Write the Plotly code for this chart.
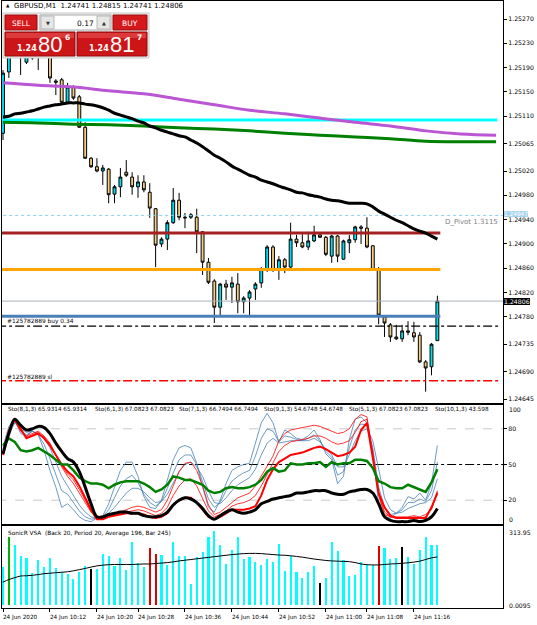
import plotly.graph_objects as go

# ------------------------------------------------------------------ data
tick_bars = [0, 8, 16, 23, 31, 39, 47, 55, 62, 70]
tick_labels = ["24 Jun 2020", "24 Jun 10:12", "24 Jun 10:20", "24 Jun 10:28", "24 Jun 10:36",
               "24 Jun 10:44", "24 Jun 10:52", "24 Jun 11:00", "24 Jun 11:08", "24 Jun 11:16"]

opens = [1.25082, 1.25183, 1.25216, 1.25219, 1.25199, 1.25209, 1.25216, 1.25219, 1.25216, 1.25168,
         1.25170, 1.25133, 1.25158, 1.25142, 1.25092, 1.25041, 1.25027, 1.25020, 1.25023, 1.24982,
         1.24994, 1.25018, 1.25010, 1.24994, 1.25002, 1.24985, 1.24958, 1.24900, 1.24908, 1.24935,
         1.24972, 1.24944, 1.24944, 1.24944, 1.24920, 1.24870, 1.24839, 1.24796, 1.24834, 1.24829,
         1.24834, 1.24805, 1.24811, 1.24826, 1.24836, 1.24859, 1.24895, 1.24859, 1.24874, 1.24862,
         1.24908, 1.24902, 1.24895, 1.24905, 1.24915, 1.24911, 1.24880, 1.24913, 1.24875, 1.24902,
         1.24907, 1.24928, 1.24926, 1.24897, 1.24859, 1.24780, 1.24767, 1.24747, 1.24744, 1.24757,
         1.24754, 1.24750, 1.24706, 1.24698, 1.24741]
highs = [1.25186, 1.25227, 1.25232, 1.25227, 1.25219, 1.25216, 1.25222, 1.25227, 1.25222, 1.25171,
         1.25173, 1.25165, 1.25161, 1.25145, 1.25100, 1.25043, 1.25041, 1.25030, 1.25025, 1.24997,
         1.25025, 1.25038, 1.25018, 1.25013, 1.25013, 1.25000, 1.24959, 1.24911, 1.24939, 1.24992,
         1.24984, 1.24951, 1.24951, 1.24958, 1.24921, 1.24877, 1.24842, 1.24836, 1.24841, 1.24846,
         1.24852, 1.24814, 1.24824, 1.24837, 1.24862, 1.24898, 1.24898, 1.24880, 1.24877, 1.24935,
         1.24915, 1.24916, 1.24920, 1.24930, 1.24916, 1.24913, 1.24915, 1.24915, 1.24907, 1.24915,
         1.24930, 1.24931, 1.24944, 1.24898, 1.24862, 1.24783, 1.24770, 1.24767, 1.24767, 1.24773,
         1.24772, 1.24755, 1.24709, 1.24737, 1.24815]
lows = [1.25071, 1.25173, 1.25211, 1.25178, 1.25196, 1.25203, 1.25186, 1.25209, 1.25165, 1.25145,
        1.25132, 1.25130, 1.25137, 1.25091, 1.25040, 1.25025, 1.25018, 1.24997, 1.24967, 1.24967,
        1.24977, 1.25010, 1.24981, 1.24976, 1.24985, 1.24943, 1.24862, 1.24895, 1.24890, 1.24933,
        1.24939, 1.24926, 1.24941, 1.24885, 1.24849, 1.24834, 1.24770, 1.24783, 1.24808, 1.24803,
        1.24786, 1.24786, 1.24783, 1.24808, 1.24828, 1.24854, 1.24854, 1.24841, 1.24852, 1.24860,
        1.24895, 1.24893, 1.24890, 1.24903, 1.24910, 1.24880, 1.24869, 1.24870, 1.24874, 1.24885,
        1.24902, 1.24900, 1.24893, 1.24857, 1.24768, 1.24747, 1.24739, 1.24742, 1.24739, 1.24750,
        1.24739, 1.24704, 1.24657, 1.24684, 1.24741]
closes = [1.25181, 1.25216, 1.25224, 1.25212, 1.25211, 1.25206, 1.25211, 1.25216, 1.25173, 1.25166,
          1.25133, 1.25158, 1.25140, 1.25092, 1.25041, 1.25027, 1.25020, 1.25025, 1.24981, 1.24994,
          1.25010, 1.25013, 1.24994, 1.25002, 1.24989, 1.24959, 1.24898, 1.24908, 1.24935, 1.24972,
          1.24944, 1.24943, 1.24948, 1.24920, 1.24870, 1.24837, 1.24796, 1.24834, 1.24829, 1.24836,
          1.24805, 1.24811, 1.24821, 1.24834, 1.24859, 1.24895, 1.24857, 1.24874, 1.24862, 1.24908,
          1.24902, 1.24895, 1.24905, 1.24915, 1.24911, 1.24883, 1.24913, 1.24880, 1.24905, 1.24907,
          1.24928, 1.24926, 1.24895, 1.24857, 1.24783, 1.24770, 1.24747, 1.24744, 1.24757, 1.24755,
          1.24747, 1.24706, 1.24696, 1.24735, 1.24806]

ma_black = [1.25109, 1.25110, 1.25114, 1.25115, 1.25117, 1.25119, 1.25122, 1.25125, 1.25127, 1.25129,
            1.25130, 1.25132, 1.25132, 1.25132, 1.25130, 1.25129, 1.25127, 1.25124, 1.25120, 1.25115,
            1.25112, 1.25109, 1.25106, 1.25102, 1.25099, 1.25094, 1.25091, 1.25087, 1.25084, 1.25081,
            1.25078, 1.25076, 1.25071, 1.25066, 1.25060, 1.25053, 1.25046, 1.25041, 1.25035, 1.25028,
            1.25023, 1.25018, 1.25013, 1.25010, 1.25005, 1.25002, 1.24999, 1.24995, 1.24992, 1.24989,
            1.24985, 1.24984, 1.24981, 1.24979, 1.24977, 1.24974, 1.24972, 1.24971, 1.24969, 1.24967,
            1.24967, 1.24967, 1.24966, 1.24961, 1.24954, 1.24949, 1.24944, 1.24939, 1.24935, 1.24930,
            1.24925, 1.24921, 1.24918, 1.24913, 1.24908]

slow_ma_bars = [0, 6, 12, 18, 24, 30, 36, 42, 48, 54, 60, 66, 72, 78, 84]
ma_magenta = [1.25165, 1.25161, 1.25158, 1.25152, 1.25147, 1.25138, 1.25129, 1.25120, 1.25114,
              1.25107, 1.25100, 1.25094, 1.25086, 1.25081, 1.25079]
ma_green = [1.25100, 1.25099, 1.25097, 1.25096, 1.25094, 1.25091, 1.25089, 1.25086, 1.25082,
            1.25079, 1.25076, 1.25073, 1.25069, 1.25068, 1.25068]

level_cyan = 1.25104
level_darkred = 1.24918
level_orange = 1.24858
level_steel = 1.24781
level_pivot = 1.24947
level_bid = 1.24806
level_order = 1.24765
level_sl = 1.24675

price_ticks = [1.25270, 1.25230, 1.25190, 1.25150, 1.25110, 1.25065, 1.25020, 1.24980,
               1.24940, 1.24900, 1.24860, 1.24820, 1.24780, 1.24735, 1.24690, 1.24645]

sto_black = [59, 76, 88, 83, 79, 80, 82, 81, 76, 68,
             61, 55, 52, 44, 31, 17, 6, 6, 8, 9,
             10, 10, 9, 9, 7, 6, 6, 7, 10, 16,
             20, 22, 21, 18, 13, 7, 4, 7, 10, 12,
             10, 9, 10, 12, 17, 19, 21, 22, 23, 24,
             26, 26, 27, 28, 28, 28, 26, 25, 25, 27,
             28, 29, 29, 26, 17, 6, 3, 2, 2, 2,
             3, 2, 3, 6, 13]
sto_green = [66, 72, 69, 62, 61, 62, 64, 61, 58, 54,
             50, 50, 45, 39, 36, 34, 34, 33, 30, 33,
             35, 36, 36, 36, 34, 31, 27, 29, 33, 40,
             39, 37, 37, 35, 33, 28, 26, 27, 30, 31,
             30, 30, 31, 33, 37, 44, 47, 44, 45, 51,
             50, 50, 51, 51, 52, 48, 52, 50, 51, 51,
             54, 54, 53, 47, 36, 34, 31, 30, 30, 33,
             31, 29, 27, 35, 46]
sto_blue_fast = [65, 82, 88, 76, 74, 78, 75, 62, 45, 31,
                 14, 17, 12, 6, 3, 2, 5, 7, 17, 31,
                 45, 52, 52, 40, 23, 14, 13, 20, 37, 54,
                 64, 66, 64, 51, 31, 14, 10, 20, 34, 45,
                 48, 50, 51, 68, 85, 93, 85, 69, 79, 76,
                 72, 71, 74, 79, 71, 59, 54, 34, 40, 71,
                 88, 90, 85, 59, 17, 6, 5, 9, 14, 23,
                 21, 26, 20, 34, 66]
sto_blue_mid = [63, 78, 86, 78, 75, 78, 75, 67, 55, 42,
                28, 25, 18, 11, 6, 4, 5, 6, 12, 22,
                32, 38, 41, 35, 25, 18, 15, 19, 30, 43,
                54, 58, 58, 50, 35, 21, 14, 18, 28, 36,
                40, 43, 45, 57, 72, 80, 78, 69, 74, 73,
                71, 70, 72, 75, 70, 61, 56, 41, 44, 64,
                79, 84, 83, 64, 31, 14, 8, 9, 12, 18,
                18, 21, 19, 28, 52]
sto_blue_slow = [62, 75, 85, 80, 77, 78, 76, 72, 64, 52,
                 40, 32, 24, 16, 10, 6, 5, 6, 9, 14,
                 20, 26, 30, 30, 27, 22, 18, 19, 25, 34,
                 44, 50, 52, 48, 40, 28, 18, 17, 22, 28,
                 33, 36, 39, 46, 58, 68, 72, 68, 69, 70,
                 70, 70, 70, 72, 69, 63, 58, 48, 48, 58,
                 70, 78, 80, 70, 45, 22, 12, 9, 10, 13,
                 15, 17, 18, 22, 38]
sto_red_hi = [60, 80, 87, 78, 74, 76, 78, 74, 68, 58,
              48, 40, 34, 26, 18, 10, 5, 5, 7, 8,
              10, 12, 14, 15, 14, 12, 10, 12, 20, 32,
              44, 51, 52, 45, 32, 16, 8, 10, 14, 18,
              22, 24, 26, 32, 40, 48, 57, 70, 76, 79,
              80, 81, 82, 83, 82, 80, 78, 76, 77, 80,
              88, 92, 90, 60, 24, 8, 6, 6, 6, 6,
              7, 6, 8, 12, 28]
sto_red_mid = [59, 79, 87, 79, 73, 75, 77, 73, 67, 58,
               49, 42, 37, 29, 20, 11, 4, 4, 6, 7,
               9, 10, 11, 12, 11, 9, 7, 9, 14, 24,
               32, 37, 38, 32, 22, 11, 6, 8, 11, 15,
               17, 18, 20, 24, 32, 42, 51, 61, 66, 69,
               70, 71, 72, 74, 74, 72, 69, 67, 68, 70,
               77, 86, 88, 58, 25, 10, 6, 5, 5, 5,
               6, 5, 6, 13, 27]
sto_red_lo = [58, 78, 88, 80, 72, 74, 76, 72, 66, 58,
              50, 44, 40, 32, 22, 12, 4, 4, 6, 7,
              8, 9, 9, 9, 8, 6, 5, 6, 9, 16,
              20, 22, 22, 18, 12, 6, 4, 6, 9, 12,
              12, 12, 13, 15, 24, 37, 46, 52, 55, 58,
              59, 60, 62, 64, 65, 63, 60, 57, 58, 60,
              65, 79, 85, 56, 26, 14, 7, 5, 5, 5,
              5, 5, 5, 14, 26]
sto_levels_dotted = [80, 20]
sto_level_mid = 50

volumes = [162, 290, 254, 208, 198, 134, 191, 162, 198, 158,
           141, 131, 110, 138, 167, 153, 151, 215, 208, 165,
           198, 148, 268, 177, 162, 240, 215, 212, 170, 268,
           208, 208, 88, 205, 226, 290, 314, 254, 172, 233,
           290, 195, 205, 184, 170, 195, 181, 257, 144, 208,
           141, 113, 141, 167, 92, 116, 266, 230, 191, 123,
           127, 181, 170, 170, 250, 240, 195, 198, 246, 205,
           172, 233, 290, 254, 254]
vol_avg = [97, 108, 116, 123, 124, 126, 129, 133, 135, 137,
           139, 141, 145, 150, 155, 161, 166, 169, 171, 172,
           172, 172, 172, 173, 174, 174, 176, 178, 180, 183,
           187, 190, 193, 196, 199, 202, 205, 208, 211, 214,
           216, 218, 219, 219, 218, 216, 214, 212, 211, 209,
           206, 203, 199, 195, 192, 189, 187, 186, 185, 184,
           180, 174, 171, 170, 170, 172, 174, 175, 177, 179,
           182, 186, 193, 200, 204]
vol_green_bars = [1]
vol_red_bars = [25, 26, 64]
vol_black_bars = [15, 54, 68]

# ------------------------------------------------------------------ geometry helpers
W, H = 537, 625
ML, MR, MT, MB = 2, 34, 1, 17
PW, PH = W - ML - MR, H - MT - MB
FONT = "DejaVu Sans"
BIG = "Liberation Sans"


def PX(x):
    return (x - ML) / PW


def PY(y):
    return (H - MB - y) / PH


bars = list(range(len(opens)))
XR = [-0.17, 85.18]
LEFT, RIGHT = -1, 90

fig = go.Figure()

# ------------------------------------------------------------------ main panel
def hline(level, x_end, color, width, dash="solid"):
    fig.add_trace(go.Scatter(x=[LEFT, x_end], y=[level, level], mode="lines",
                             line=dict(color=color, width=width, dash=dash),
                             hoverinfo="skip", xaxis="x", yaxis="y"))


hline(level_pivot, RIGHT, "#87ceeb", 1, "dot")
hline(level_bid, RIGHT, "#a9b0ba", 1)
hline(level_cyan, 84.2, "#00ffff", 3)
fig.add_trace(go.Scatter(x=slow_ma_bars, y=ma_magenta, mode="lines",
                         line=dict(color="#ba55d3", width=3, shape="spline"), hoverinfo="skip"))
fig.add_trace(go.Scatter(x=slow_ma_bars, y=ma_green, mode="lines",
                         line=dict(color="#008000", width=3, shape="spline"), hoverinfo="skip"))
hline(level_darkred, 74.5, "#a52020", 3)
hline(level_orange, 74.5, "#ffa500", 3)
hline(level_steel, 74.5, "#4a80b8", 3)
hline(level_order, 84.5, "#000000", 1.3, "dashdot")
hline(level_sl, 84.5, "#ff0000", 1.3, "dashdot")
fig.add_trace(go.Scatter(x=bars, y=ma_black, mode="lines",
                         line=dict(color="black", width=3, shape="spline"), hoverinfo="skip"))

fig.add_trace(go.Candlestick(
    x=bars, open=opens, high=highs, low=lows, close=closes,
    increasing=dict(fillcolor="#00e0ec", line=dict(color="black", width=1)),
    decreasing=dict(fillcolor="#f3cc86", line=dict(color="black", width=1)),
    whiskerwidth=0, hoverinfo="skip", xaxis="x", yaxis="y"))

# ------------------------------------------------------------------ stochastic panel
for lvl in sto_levels_dotted:
    fig.add_trace(go.Scatter(x=[LEFT, RIGHT], y=[lvl, lvl], mode="lines",
                             line=dict(color="#c8c8c8", width=1, dash="dash"),
                             hoverinfo="skip", xaxis="x2", yaxis="y2"))
fig.add_trace(go.Scatter(x=[LEFT, RIGHT], y=[sto_level_mid, sto_level_mid], mode="lines",
                         line=dict(color="black", width=1.2, dash="dashdot"),
                         hoverinfo="skip", xaxis="x2", yaxis="y2"))
for series, color, width, shape in [(sto_blue_slow, "#4682b4", 0.8, "linear"),
                                    (sto_blue_mid, "#4682b4", 0.8, "linear"),
                                    (sto_blue_fast, "#4682b4", 0.8, "linear"),
                                    (sto_red_hi, "#ff0000", 0.8, "linear"),
                                    (sto_red_mid, "#ff0000", 0.8, "linear"),
                                    (sto_red_lo, "#ff0000", 2, "linear"),
                                    (sto_green, "#008000", 2.5, "linear"),
                                    (sto_black, "#000000", 3, "spline")]:
    fig.add_trace(go.Scatter(x=bars, y=series, mode="lines",
                             line=dict(color=color, width=width, shape=shape),
                             hoverinfo="skip", xaxis="x2", yaxis="y2"))

# ------------------------------------------------------------------ volume panel
vol_colors = []
for i in bars:
    if i in vol_green_bars:
        vol_colors.append("#00b000")
    elif i in vol_red_bars:
        vol_colors.append("#e00000")
    elif i in vol_black_bars:
        vol_colors.append("#000000")
    else:
        vol_colors.append("#00ffff")
fig.add_trace(go.Bar(x=bars, y=volumes, width=0.36, marker=dict(color=vol_colors, line=dict(width=0)),
                     hoverinfo="skip", xaxis="x3", yaxis="y3"))
fig.add_trace(go.Scatter(x=bars, y=vol_avg, mode="lines", line=dict(color="black", width=1, shape="spline"),
                         hoverinfo="skip", xaxis="x3", yaxis="y3"))

# ------------------------------------------------------------------ axes
axis_common = dict(showgrid=False, zeroline=False, showline=True, mirror=True,
                   linecolor="black", linewidth=1, fixedrange=True)
fig.update_layout(
    width=W, height=H, margin=dict(l=ML, r=MR, t=MT, b=MB),
    paper_bgcolor="white", plot_bgcolor="white", showlegend=False,
    font=dict(family=FONT, size=6.2, color="black"),
    xaxis=dict(domain=[0, 1], range=XR, anchor="y", showticklabels=False, ticks="",
               rangeslider=dict(visible=False), **axis_common),
    xaxis2=dict(domain=[0, 1], range=XR, anchor="y2", showticklabels=False, ticks="",
                matches="x", **axis_common),
    xaxis3=dict(domain=[0, 1], range=XR, anchor="y3", showticklabels=False, ticks="outside",
                ticklen=3, tickcolor="black", tickvals=tick_bars, matches="x", **axis_common),
    yaxis=dict(domain=[PY(403), 1], side="right",
               range=[1.2530125 - 403 * 0.000016447, 1.2530125 - 1 * 0.000016447],
               tickvals=price_ticks, tickformat=".5f", ticks="outside", ticklen=3,
               tickcolor="black", **axis_common),
    yaxis2=dict(domain=[PY(524), PY(405)], side="right", range=[0, 100],
                tickvals=[80, 50, 20], ticks="outside", ticklen=3, tickcolor="black", **axis_common),
    yaxis3=dict(domain=[0, PY(526)], side="right", range=[-12.7, 335.2],
                showticklabels=False, ticks="", **axis_common),
    bargap=0,
)

# ------------------------------------------------------------------ annotations
ann = []


def text(x, y, s, size=6.2, color="black", anchor="left", family=FONT, **kw):
    ann.append(dict(x=PX(x), y=PY(y), xref="paper", yref="paper", text=s, showarrow=False,
                    xanchor=anchor, yanchor="middle", font=dict(family=family, size=size, color=color), **kw))


text(4, 6, "▲", size=4.5)
text(12, 6, "GBPUSD,M1  1.24741 1.24815 1.24741 1.24806", size=7)
text(5, 321, "#125782889 buy 0.34", size=5.9)
text(5, 377.5, "#125782889 sl", size=5.9)
text(500, 222, "D_Pivot 1.3115", size=7, color="#808080", anchor="right")

sto_titles = [(6, "Sto(8,1,3) 65.9314 65.9314"), (93, "Sto(6,1,3) 67.0823 67.0823"),
              (177, "Sto(7,1,3) 66.7494 66.7494"), (262, "Sto(9,1,3) 54.6748 54.6748"),
              (347, "Sto(5,1,3) 67.0823 67.0823"), (433, "Sto(10,1,3) 43.598")]
for xx, s in sto_titles:
    text(xx, 409.5, s, size=5.7)
text(6, 533, "SonicR VSA  (Back 20, Period 20, Average 196, Bar 245)", size=5.8)

# right-side value labels outside the axes
text(507, 409, "100", size=6.2)
text(507, 519, "0", size=6.2)
text(507, 532, "313.95", size=6.2)
text(507, 605, "0.0095", size=6.2)

# price boxes on the price scale
ann.append(dict(x=1, xref="paper", xanchor="left", xshift=1, y=level_pivot, yref="y",
                yshift=1.5, text="1.24947", showarrow=False, bgcolor="#a5d3ec", borderpad=0,
                borderwidth=0, font=dict(family=FONT, size=5.8, color="white")))
ann.append(dict(x=1, xref="paper", xanchor="left", xshift=1, y=level_bid, yref="y",
                text="1.24806", showarrow=False, bgcolor="black", borderpad=0, borderwidth=0,
                font=dict(family=FONT, size=6.2, color="white")))

# time labels
for b, s in zip(tick_bars, tick_labels):
    ann.append(dict(x=b, xref="x3", xanchor="left", xshift=-2, y=PY(617), yref="paper",
                    yanchor="middle", text=s, showarrow=False,
                    font=dict(family=FONT, size=5.7, color="black")))

# one-click trading panel
shapes = []


def rect(x0, y0, x1, y1, fill, line="rgba(0,0,0,0)", lw=1):
    shapes.append(dict(type="rect", xref="paper", yref="paper", x0=PX(x0), x1=PX(x1),
                       y0=PY(y1), y1=PY(y0), fillcolor=fill, line=dict(color=line, width=lw),
                       layer="above"))


rect(3, 13, 149, 58, "#f0f0f0", "#c8c8c8")
rect(5, 15, 37, 30, "#d3191c", "#9b0e10")
rect(40, 15, 111, 30, "white", "#a8a8a8")
rect(41, 16, 54, 29, "#e6e6e6", "#b8b8b8")
rect(97, 16, 110, 29, "#e6e6e6", "#b8b8b8")
rect(113, 15, 147, 30, "#d3191c", "#9b0e10")
rect(5, 32, 75, 56, "#cc1518", "#8e0b0d")
rect(77, 32, 147, 56, "#cc1518", "#8e0b0d")
rect(6, 33, 74, 38, "#dd3a3c")
rect(78, 33, 146, 38, "#dd3a3c")
fig.update_layout(shapes=shapes)

text(21, 23, "SELL", size=7.5, color="white", anchor="center")
text(130, 23, "BUY", size=7.5, color="white", anchor="center")
text(47.5, 23, "▼", size=5, color="#303030", anchor="center")
text(103.5, 23, "▲", size=5, color="#303030", anchor="center")
text(96, 23, "0.17", size=7.5, color="black", anchor="right")
text(15, 48, "<b>1.24</b>", size=8, color="white")
text(36, 45, "80", size=22, color="white", family=BIG)
text(63, 37.5, "<b>6</b>", size=7.5, color="white")
text(87, 48, "<b>1.24</b>", size=8, color="white")
text(108, 45, "81", size=22, color="white", family=BIG)
text(135, 37.5, "<b>7</b>", size=7.5, color="white")

fig.update_layout(annotations=ann)
fig.write_html("out.html")
